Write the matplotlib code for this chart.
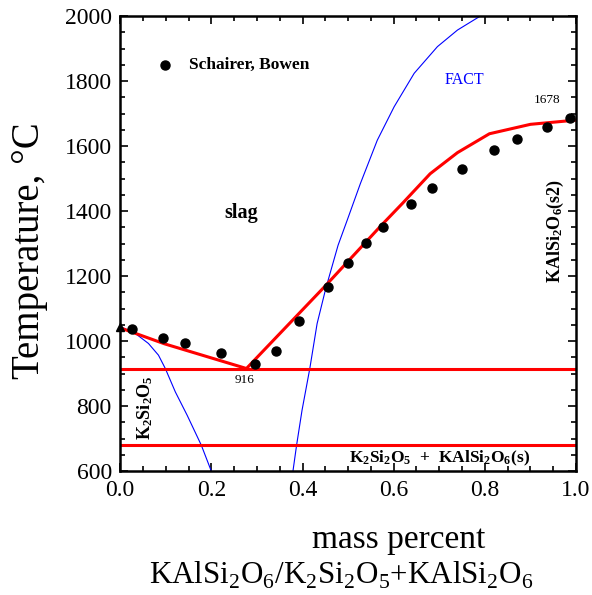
import matplotlib.pyplot as plt
from matplotlib.ticker import MultipleLocator, FormatStrFormatter

plt.rcParams['font.family'] = ['Liberation Serif', 'DejaVu Serif']
plt.rcParams['mathtext.fontset'] = 'custom'
plt.rcParams['mathtext.rm'] = 'Liberation Serif'
plt.rcParams['mathtext.bf'] = 'Liberation Serif:bold'

# experimental points (Schairer, Bowen)
exp_x = [0.027, 0.094, 0.143, 0.222, 0.295, 0.341, 0.393, 0.456, 0.500, 0.539,
         0.577, 0.637, 0.685, 0.749, 0.820, 0.870, 0.936, 0.986]
exp_y = [1036, 1011, 995, 963, 930, 970, 1063, 1166, 1241, 1302,
         1350, 1421, 1472, 1531, 1587, 1621, 1658, 1686]

# calculated liquidus (red)
liq_x = [0.0, 0.097, 0.277, 0.45, 0.57, 0.62, 0.68, 0.74, 0.81, 0.90, 1.0]
liq_y = [1041, 992, 916, 1170, 1352, 1425, 1515, 1580, 1638, 1667, 1680]

# FACT curves (blue)
fact1_x = [0.0, 0.033, 0.062, 0.084, 0.099, 0.121, 0.147, 0.178, 0.200]
fact1_y = [1045, 1024, 993, 957, 916, 844, 772, 680, 600]
fact2_x = [0.379, 0.387, 0.399, 0.416, 0.432, 0.451, 0.478, 0.498, 0.527,
           0.564, 0.601, 0.645, 0.696, 0.740, 0.790]
fact2_y = [600, 680, 788, 916, 1054, 1162, 1295, 1372, 1485,
           1618, 1721, 1824, 1906, 1957, 2000]

eutectic_T = 916
solidus_T = 680
k2si2o5_melt = 1045

fig, ax = plt.subplots(figsize=(5.92, 5.95), dpi=100)
fig.subplots_adjust(left=0.203, right=0.973, top=0.973, bottom=0.208)

ax.plot(fact1_x, fact1_y, color='blue', lw=0.8)
ax.plot(fact2_x, fact2_y, color='blue', lw=0.8)
ax.plot(liq_x, liq_y, color='red', lw=2.2)
ax.axhline(eutectic_T, color='red', lw=2.2)
ax.axhline(solidus_T, color='red', lw=2.2)
ax.plot(exp_x, exp_y, 'o', color='black', ms=6.5)
ax.plot([0.0], [k2si2o5_melt], '^', color='black', ms=6, clip_on=False)

ax.plot([0.099], [1849], 'o', color='black', ms=6.5)
ax.text(0.15, 1849, 'Schairer, Bowen', fontsize=12.5, fontweight='bold', va='center')
ax.text(0.755, 1803, 'FACT', fontsize=11.5, color='blue', ha='center', va='center')
ax.text(0.937, 1742, '1678', fontsize=9.5, ha='center', va='center')
ax.text(0.265, 1394, 'slag', fontsize=14.5, fontweight='bold', ha='center', va='center')
ax.text(0.273, 880, '916', fontsize=9.5, ha='center', va='center')
ax.text(0.055, 795, r'$\mathbf{K_2Si_2O_5}$', fontsize=13, rotation=90,
        ha='center', va='center')
ax.text(0.955, 1340, r'$\mathbf{KAlSi_2O_6(s2)}$', fontsize=13, rotation=90,
        ha='center', va='center')
ax.text(0.70, 640, r'$\mathbf{K_2Si_2O_5\ +\ KAlSi_2O_6(s)}$', fontsize=12.5,
        ha='center', va='center')

ax.set_xlim(0, 1)
ax.set_ylim(600, 2000)
ax.xaxis.set_major_locator(MultipleLocator(0.2))
ax.xaxis.set_minor_locator(MultipleLocator(0.05))
ax.xaxis.set_major_formatter(FormatStrFormatter('%.1f'))
ax.yaxis.set_major_locator(MultipleLocator(200))
ax.yaxis.set_minor_locator(MultipleLocator(50))
ax.tick_params(which='both', direction='in', top=True, right=True, width=1.2)
ax.tick_params(which='major', length=6, labelsize=17, pad=6)
ax.tick_params(which='minor', length=3.5)
for s in ax.spines.values():
    s.set_linewidth(1.8)

ax.set_ylabel('Temperature, °C', fontsize=28)
ax.yaxis.set_label_coords(-0.158, 0.484)

fig.text(0.674, 0.079, 'mass percent', fontsize=24, ha='center', va='baseline')
fig.text(0.576, 0.018, r'KAlSi$_2$O$_6$/K$_2$Si$_2$O$_5$+KAlSi$_2$O$_6$',
         fontsize=22.3, ha='center', va='baseline')

fig.savefig('out.png', dpi=100)
